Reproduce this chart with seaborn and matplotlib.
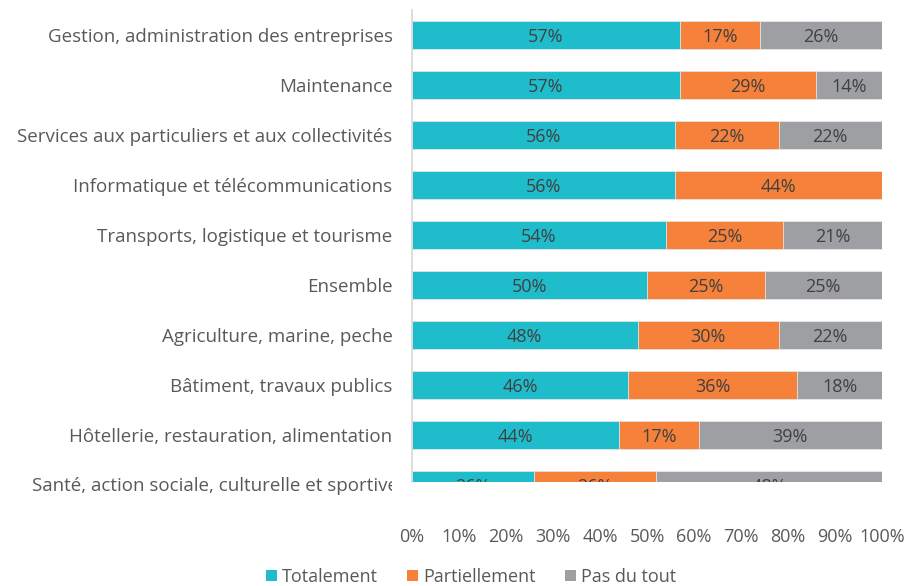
import matplotlib
matplotlib.use('Agg')
import matplotlib.pyplot as plt
import seaborn as sns
import pandas as pd
import numpy as np
from matplotlib.patches import Patch, Rectangle
from matplotlib.transforms import IdentityTransform

categories = [
    'Gestion, administration des entreprises',
    'Maintenance',
    'Services aux particuliers et aux collectivités',
    'Informatique et télécommunications',
    'Transports, logistique et tourisme',
    'Ensemble',
    'Agriculture, marine, peche',
    'Bâtiment, travaux publics',
    'Hôtellerie, restauration, alimentation',
    'Santé, action sociale, culturelle et sportive',
]
totalement = [57, 57, 56, 56, 54, 50, 48, 46, 44, 26]
partiellement = [17, 29, 22, 44, 25, 25, 30, 36, 17, 26]
pas_du_tout = [26, 14, 22, 0, 21, 25, 22, 18, 39, 48]
series_names = ['Totalement', 'Partiellement', 'Pas du tout']
colors = ['#1FBCCC', '#F5813B', '#9D9FA2']

sns.set_theme(style='white')
plt.rcParams['font.family'] = ['Open Sans', 'DejaVu Sans']
fs = 13
fs_cat = 13.5

df = pd.DataFrame({'cat': categories, 't': totalement, 'p': partiellement, 'n': pas_du_tout})
df['c1'] = df['t']
df['c2'] = df['t'] + df['p']
df['c3'] = df['t'] + df['p'] + df['n']

fig = plt.figure(figsize=(9.21, 5.86), dpi=100)
ax = fig.add_axes([412 / 921, 1 - 482 / 586, 470 / 921, 472 / 586])

# stacked bars drawn as layered cumulative totals
for col, c in zip(['c3', 'c2', 'c1'], colors[::-1]):
    sns.barplot(data=df, x=col, y='cat', color=c, width=0.56, ax=ax,
                edgecolor='#E6E6E6', linewidth=0.6, saturation=1)

for i, row in df.iterrows():
    left = 0
    for v in (row['t'], row['p'], row['n']):
        if v > 0:
            ax.text(left + v / 2, i + 0.04, f'{v}%', ha='center', va='center',
                    fontsize=fs, color='#404040', clip_on=True)
        left += v

ax.set_xlim(0, 100)
ax.set_ylim(8.94, -0.5)
ax.set_xticks(np.arange(0, 101, 10))
ax.set_xticklabels([f'{t}%' for t in range(0, 101, 10)])
ax.tick_params(axis='x', length=0, pad=33, labelsize=fs, labelcolor='#595959')
ax.tick_params(axis='y', length=0, pad=14, labelsize=fs_cat, labelcolor='#595959')
ax.set_xlabel('')
ax.set_ylabel('')
for s in ['top', 'right', 'bottom']:
    ax.spines[s].set_visible(False)
ax.spines['left'].set_color('#D9D9D9')

# last category sits on the clipped edge: draw its label by hand
ax.set_yticks(range(9))
ax.set_yticklabels(categories[:9])
lab = fig.text(398 / 921, 1 - 486 / 586, categories[9], ha='right', va='center',
               fontsize=fs_cat, color='#595959')
lab.set_clip_path(Rectangle((0, 0), 392, 586, transform=IdentityTransform()))

handles = [Patch(facecolor=c, edgecolor='none') for c in colors]
fig.legend(handles, series_names, loc='center', bbox_to_anchor=(471 / 921, 1 - 577 / 586),
           ncol=3, frameon=False, fontsize=fs, handlelength=0.6, handleheight=0.6,
           handletextpad=0.3, columnspacing=1.6, labelcolor='#595959')

fig.savefig('out.png', dpi=100)
